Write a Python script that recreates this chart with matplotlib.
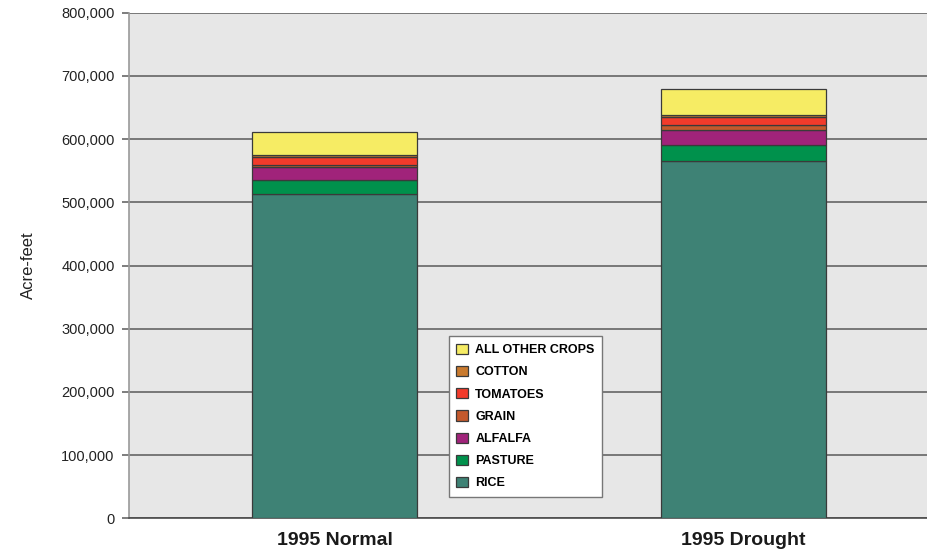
import numpy as np
import matplotlib.pyplot as plt
from matplotlib.ticker import FuncFormatter

# applied water by crop, acre-feet
scenarios = ["1995 Normal", "1995 Drought"]
crops = ["RICE", "PASTURE", "ALFALFA", "GRAIN", "TOMATOES", "COTTON", "ALL OTHER CROPS"]
rice = [513500, 565000]
pasture = [22000, 25000]
alfalfa = [21000, 25000]
grain = [2000, 7000]
tomatoes = [13500, 13000]
cotton = [3000, 3000]
other = [37000, 41000]

series = [rice, pasture, alfalfa, grain, tomatoes, cotton, other]
colors = ["#3e8275", "#00914c", "#a0237a", "#c4592c", "#f23b2b", "#c97a2e", "#f6ec64"]

W, H = 928, 560
fig = plt.figure(figsize=(W / 100, H / 100), dpi=100)
ax = fig.add_axes([128.5 / W, (H - 518.3) / H, (W - 128.5) / W, (518.3 - 12.7) / H])
ax.set_facecolor("#e7e7e7")

x = np.arange(len(scenarios))
bottom = np.zeros(len(scenarios))
handles = []
for name, vals, c in zip(crops, series, colors):
    b = ax.bar(x, vals, 0.405, bottom=bottom, color=c, edgecolor="#3a3a3a",
               linewidth=0.9, label=name, zorder=3)
    handles.append(b)
    bottom += np.array(vals)

ax.set_ylim(0, 800000)
ax.set_xlim(-0.504, 1.451)
ax.set_yticks(np.arange(0, 800001, 100000))
ax.yaxis.set_major_formatter(FuncFormatter(lambda v, p: f"{int(v):,}"))
ax.grid(axis="y", color="#5a5a5a", linewidth=1.1, zorder=1)
ax.set_axisbelow(True)

for s in ["top", "right"]:
    ax.spines[s].set_visible(False)
ax.spines["left"].set_color("#9a9a9a")
ax.spines["left"].set_linewidth(1.2)
ax.spines["bottom"].set_color("#4a4a4a")
ax.spines["bottom"].set_linewidth(1.2)

ax.tick_params(axis="y", length=5, width=1.1, color="#5a5a5a", labelsize=10.5,
               labelcolor="#222222", pad=5)
for lab in ax.get_yticklabels():
    lab.set_family(["Liberation Sans", "DejaVu Sans"])
ax.set_xticks(x)
ax.set_xticklabels(scenarios, fontsize=14, fontweight="bold",
                   family=["Liberation Sans", "DejaVu Sans"], color="#1a1a1a")
ax.tick_params(axis="x", length=0, pad=10)

ax.set_ylabel("Acre-feet", fontsize=12, family=["Liberation Sans", "DejaVu Sans"],
              color="#222222", labelpad=18)

leg = ax.legend(handles[::-1], crops[::-1], loc="upper left",
                bbox_to_anchor=(449 / W, (H - 336) / H), bbox_transform=fig.transFigure,
                borderaxespad=0, frameon=True, fancybox=False, handlelength=0.9,
                handleheight=0.9, handletextpad=0.6, labelspacing=0.78, borderpad=0.6,
                prop={"family": ["Liberation Sans", "DejaVu Sans"],
                      "weight": "bold", "size": 9})
leg.get_frame().set_edgecolor("#777777")
leg.get_frame().set_linewidth(1.0)
leg.get_frame().set_facecolor("white")
leg.get_frame().set_alpha(1)
leg.set_zorder(5)

fig.savefig("out.png", dpi=100)
